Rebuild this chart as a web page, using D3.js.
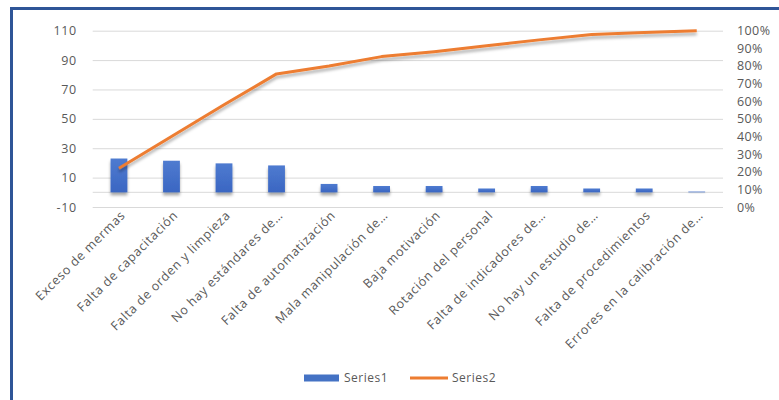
<!DOCTYPE html>
<html>
<head>
<meta charset="utf-8">
<script src="https://cdn.jsdelivr.net/npm/d3@7"></script>
<style>
    html, body { margin: 0; padding: 0; background: #fff; }
    svg { display: block; }
    text { font-family: "Open Sans", "Liberation Sans", sans-serif; fill: #595959; }
</style>
</head>
<body>
<div id="chart"></div>
<script>
// ============================================================================
// DATA
// ============================================================================

const categories = [
    "Exceso de mermas",
    "Falta de capacitación",
    "Falta de orden y limpieza",
    "No hay estándares de…",
    "Falta de automatización",
    "Mala manipulación de…",
    "Baja motivación",
    "Rotación del personal",
    "Falta de indicadores de…",
    "No hay un estudio de…",
    "Falta de procedimientos",
    "Errores en la calibración de…"
];

// Series1: frequency (left axis)
const series1 = [23, 21.5, 19.7, 18.3, 5.7, 4.3, 4.3, 2.6, 4.3, 2.6, 2.6, 0.5];

// Series2: cumulative percentage (right axis)
const series2 = [0.22, 0.40, 0.58, 0.755, 0.80, 0.853, 0.881, 0.915, 0.948, 0.978, 0.99, 1.0];

const leftTicks  = [-10, 10, 30, 50, 70, 90, 110];
const rightTicks = [0, 0.1, 0.2, 0.3, 0.4, 0.5, 0.6, 0.7, 0.8, 0.9, 1.0];


// ============================================================================
// SETUP
// ============================================================================

const W = 779, H = 400;
const margin = { top: 30.7, right: 56, bottom: 193, left: 92.7 };
const width  = W - margin.left - margin.right;
const height = H - margin.top  - margin.bottom;

const svg = d3.select("#chart")
    .append("svg")
    .attr("width",  W)
    .attr("height", H);

const defs = svg.append("defs");

defs.append("filter")
    .attr("id", "barShadow")
    .attr("x", "-50%").attr("y", "-50%")
    .attr("width", "200%").attr("height", "300%")
    .append("feDropShadow")
    .attr("dx", 0).attr("dy", 3)
    .attr("stdDeviation", 1.4)
    .attr("flood-color", "#000")
    .attr("flood-opacity", 0.35);

defs.append("filter")
    .attr("id", "lineShadow")
    .attr("x", "-10%").attr("y", "-30%")
    .attr("width", "120%").attr("height", "160%")
    .append("feDropShadow")
    .attr("dx", 0).attr("dy", 3)
    .attr("stdDeviation", 1.5)
    .attr("flood-color", "#000")
    .attr("flood-opacity", 0.3);

const grad = defs.append("linearGradient")
    .attr("id", "barGrad")
    .attr("x1", 0).attr("x2", 0).attr("y1", 0).attr("y2", 1);
grad.append("stop").attr("offset", "0%").attr("stop-color", "#4f7bd0");
grad.append("stop").attr("offset", "100%").attr("stop-color", "#3a66c2");

// chart outline (runs off the right and bottom edge)
svg.append("rect")
    .attr("x", 11.5).attr("y", 8.5)
    .attr("width", 820).attr("height", 440)
    .attr("fill", "none")
    .attr("stroke", "#2f5597")
    .attr("stroke-width", 3);

const g = svg.append("g")
    .attr("transform", `translate(${margin.left},${margin.top})`);


// ============================================================================
// SCALES
// ============================================================================

const x = d3.scaleBand()
    .domain(categories)
    .range([0, width])
    .paddingInner(0.68)
    .paddingOuter(0.34);

const y = d3.scaleLinear()
    .domain([-10, 110])
    .range([height, 0]);

const y2 = d3.scaleLinear()
    .domain([0, 1])
    .range([height, 0]);

const cx = d => x(d) + x.bandwidth() / 2;


// ============================================================================
// GRID + AXES
// ============================================================================

g.append("g")
    .attr("class", "grid")
    .call(d3.axisLeft(y).tickValues(leftTicks).tickSize(-width).tickFormat(""))
    .call(a => a.select(".domain").remove())
    .call(a => a.selectAll("line").attr("stroke", "#d9d9d9").attr("stroke-width", 1));

// category axis at zero
g.append("line")
    .attr("x1", 0).attr("x2", width)
    .attr("y1", y(0)).attr("y2", y(0))
    .attr("stroke", "#d9d9d9")
    .attr("stroke-width", 1);

g.append("g")
    .attr("class", "y-axis")
    .call(d3.axisLeft(y).tickValues(leftTicks).tickSize(0).tickPadding(16)
        .tickFormat(d => String(d)))
    .call(a => a.select(".domain").remove())
    .call(a => a.selectAll("text")
        .style("font-size", "12.5px")
        .style("letter-spacing", "0.6px")
        .attr("fill", "#595959"));

g.append("g")
    .attr("class", "y2-axis")
    .attr("transform", `translate(${width},0)`)
    .call(d3.axisRight(y2).tickValues(rightTicks).tickSize(0).tickPadding(14)
        .tickFormat(d3.format(".0%")))
    .call(a => a.select(".domain").remove())
    .call(a => a.selectAll("text")
        .style("font-size", "12.5px")
        .style("letter-spacing", "0.4px")
        .attr("fill", "#595959"));

// rotated category labels
g.selectAll("text.cat-label")
    .data(categories)
    .join("text")
    .attr("class", "cat-label")
    .attr("text-anchor", "end")
    .attr("transform", d => `translate(${cx(d) + 4},${height + 6}) rotate(-45)`)
    .attr("dy", "0.35em")
    .style("font-size", "12.5px")
    .style("letter-spacing", "0.7px")
    .text(d => d);


// ============================================================================
// MARKS
// ============================================================================

g.selectAll("rect.bar")
    .data(series1)
    .join("rect")
    .attr("class", "bar")
    .attr("x",      (d, i) => x(categories[i]))
    .attr("width",  x.bandwidth())
    .attr("y",      d => y(d))
    .attr("height", d => y(0) - y(d))
    .attr("fill",   "url(#barGrad)")
    .attr("filter", "url(#barShadow)");

const line = d3.line()
    .x((d, i) => cx(categories[i]))
    .y(d => y2(d));

g.append("path")
    .datum(series2)
    .attr("fill", "none")
    .attr("stroke", "#ed7d31")
    .attr("stroke-width", 3)
    .attr("stroke-linejoin", "round")
    .attr("filter", "url(#lineShadow)")
    .attr("d", line);


// ============================================================================
// LEGEND
// ============================================================================

const legend = svg.append("g")
    .attr("transform", "translate(304,378)");

legend.append("rect")
    .attr("x", 0).attr("y", -3.5)
    .attr("width", 35).attr("height", 7)
    .attr("fill", "#4472c4");

legend.append("text")
    .attr("x", 40).attr("y", 0)
    .attr("dy", "0.35em")
    .style("font-size", "12px")
    .style("letter-spacing", "0.5px")
    .text("Series1");

legend.append("line")
    .attr("x1", 106).attr("x2", 144)
    .attr("y1", 0).attr("y2", 0)
    .attr("stroke", "#ed7d31")
    .attr("stroke-width", 3);

legend.append("text")
    .attr("x", 148).attr("y", 0)
    .attr("dy", "0.35em")
    .style("font-size", "12px")
    .style("letter-spacing", "0.5px")
    .text("Series2");
</script>
</body>
</html>
